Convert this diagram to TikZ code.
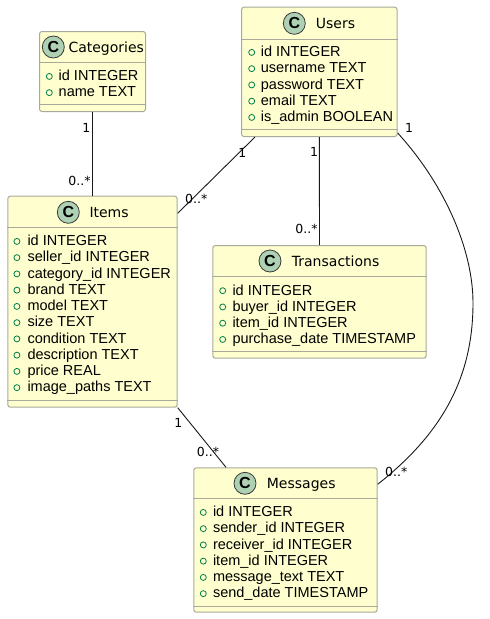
\documentclass[tikz,border=0pt]{standalone}
\usepackage{fontspec}
\setmainfont{Liberation Sans}
\newfontfamily\headfont{DejaVu Sans}
\usetikzlibrary{positioning,
  calc}
\usepackage{xcolor}
\definecolor{classfill}{HTML}{FEFECE}
\definecolor{classborder}{HTML}{A9A99B}
\definecolor{iconfill}{HTML}{ADD1B2}
\definecolor{attrgreen}{HTML}{038048}
\definecolor{linkcol}{HTML}{181818}

\tikzset{
  classbox/.style={draw=classborder, fill=classfill, rounded corners=2.5pt,
    line width=1pt, anchor=north west, inner sep=0pt},
  sepline/.style={draw=classborder, line width=1pt},
  classicon/.style={circle, draw=linkcol!85, fill=iconfill, minimum size=22pt,
    inner sep=0pt, line width=0.8pt, font=\bfseries\fontsize{16}{16}\selectfont},
  classname/.style={anchor=base west, inner sep=0pt, font=\headfont\fontsize{14}{16}\selectfont},
  attr/.style={anchor=base west, inner sep=0pt, font=\fontsize{14.5}{16}\selectfont},
  attrdot/.style={draw=attrgreen, line width=0.8pt},
  link/.style={draw=linkcol, line width=0.9pt},
  mult/.style={inner sep=0pt, font=\headfont\fontsize{12.5}{14}\selectfont}
}

\begin{document}
\begin{tikzpicture}[x=1pt,y=-1pt]
      \useasboundingbox (0,0) rectangle (490,619);

      % Categories
      \node[classbox, minimum width=106pt, minimum height=80pt] (categories) at (39,31) {};
      \draw[sepline] ([yshift=-31.3pt]categories.north west) -- ([yshift=-31.3pt]categories.north east);
      \draw[sepline] ([yshift=7.5pt]categories.south west) -- ([yshift=7.5pt]categories.south east);
      \node[classicon] (categoriesC) at (53.3,47) {C};
      \node[classname] (categoriesT) at (68.3,52.3) {Categories};
      \foreach \a [count=\i from 0] in {id INTEGER, name TEXT} {
        \draw[attrdot] (49.3,{76.4+16.25*\i}) circle[radius=3pt];
        \node[attr] (categories-\i) at (58.5,{80.7+16.25*\i}) {\a};
      }

      % Users
      \node[classbox, minimum width=155.7pt, minimum height=129.3pt] (users) at (241,6.7) {};
      \draw[sepline] ([yshift=-32.3pt]users.north west) -- ([yshift=-32.3pt]users.north east);
      \draw[sepline] ([yshift=7.7pt]users.south west) -- ([yshift=7.7pt]users.south east);
      \node[classicon] (usersC) at (294.3,23.3) {C};
      \node[classname] (usersT) at (315.7,28.6) {Users};
      \foreach \a [count=\i from 0] in {id INTEGER, username TEXT, password TEXT,
          email TEXT, is\_admin BOOLEAN} {
        \draw[attrdot] (251.7,{52.4+16.25*\i}) circle[radius=3pt];
        \node[attr] (users-\i) at (260.7,{56.7+16.25*\i}) {\a};
      }

      % Items
      \node[classbox, minimum width=169.4pt, minimum height=211pt] (items) at (7.3,195.7) {};
      \draw[sepline] ([yshift=-32pt]items.north west) -- ([yshift=-32pt]items.north east);
      \draw[sepline] ([yshift=7.4pt]items.south west) -- ([yshift=7.4pt]items.south east);
      \node[classicon] (itemsC) at (68.3,212.3) {C};
      \node[classname] (itemsT) at (89.3,217.6) {Items};
      \foreach \a [count=\i from 0] in {id INTEGER, seller\_id INTEGER, category\_id INTEGER,
          brand TEXT, model TEXT, size TEXT, condition TEXT, description TEXT,
          price REAL, image\_paths TEXT} {
        \draw[attrdot] (16.9,{241.4+16.25*\i}) circle[radius=3pt];
        \node[attr] (items-\i) at (27.3,{245.7+16.25*\i}) {\a};
      }

      % Transactions
      \node[classbox, minimum width=213.4pt, minimum height=112.7pt] (transactions) at (212.3,245) {};
      \draw[sepline] ([yshift=-31.7pt]transactions.north west) -- ([yshift=-31.7pt]transactions.north east);
      \draw[sepline] ([yshift=7pt]transactions.south west) -- ([yshift=7pt]transactions.south east);
      \node[classicon] (transactionsC) at (270,261) {C};
      \node[classname] (transactionsT) at (291.7,266.3) {Transactions};
      \foreach \a [count=\i from 0] in {id INTEGER, buyer\_id INTEGER, item\_id INTEGER,
          purchase\_date TIMESTAMP} {
        \draw[attrdot] (222.7,{290.7+16.25*\i}) circle[radius=3pt];
        \node[attr] (transactions-\i) at (232.3,{295+16.25*\i}) {\a};
      }

      % Messages
      \node[classbox, minimum width=183.4pt, minimum height=144.4pt] (messages) at (193.3,467.3) {};
      \draw[sepline] ([yshift=-31pt]messages.north west) -- ([yshift=-31pt]messages.north east);
      \draw[sepline] ([yshift=6.7pt]messages.south west) -- ([yshift=6.7pt]messages.south east);
      \node[classicon] (messagesC) at (245,483.3) {C};
      \node[classname] (messagesT) at (266.7,488.6) {Messages};
      \foreach \a [count=\i from 0] in {id INTEGER, sender\_id INTEGER, receiver\_id INTEGER,
          item\_id INTEGER, message\_text TEXT, send\_date TIMESTAMP} {
        \draw[attrdot] (203.3,{512.4+16.25*\i}) circle[radius=3pt];
        \node[attr] (messages-\i) at (212.8,{516.7+16.25*\i}) {\a};
      }

      % Associations
      \draw[link] (categories.south) -- (items.north);
      \draw[link] ([xshift=14pt]users.south west) -- ([yshift=-17.6pt]items.north east);
      \draw[link] (users.south) -- (transactions.north);
      \draw[link] ([yshift=4pt]users.south east) .. controls (445,185) and (473,250) .. (473,303)
        .. controls (473,380) and (440,435) .. ([yshift=-17pt]messages.north east);
      \draw[link] (items.south east) -- ([xshift=32.7pt]messages.north west);

      % Multiplicities
      \node[mult, anchor=base] (m1) at (86.3,132.2) {1};
      \node[mult, anchor=base east] (m2) at (90.7,185.2) {0..*};
      \node[mult, anchor=base] (m3) at (242.3,157.8) {1};
      \node[mult, anchor=base west] (m4) at (185,203.5) {0..*};
      \node[mult, anchor=base] (m5) at (314,156.2) {1};
      \node[mult, anchor=base east] (m6) at (317.7,233.8) {0..*};
      \node[mult, anchor=base] (m7) at (409,132.8) {1};
      \node[mult, anchor=base] (m8) at (178.3,427.2) {1};
      \node[mult, anchor=base west] (m9) at (196.7,456.2) {0..*};
      \node[mult, anchor=base west] (m10) at (385,476.8) {0..*};
    \end{tikzpicture}
\end{document}
